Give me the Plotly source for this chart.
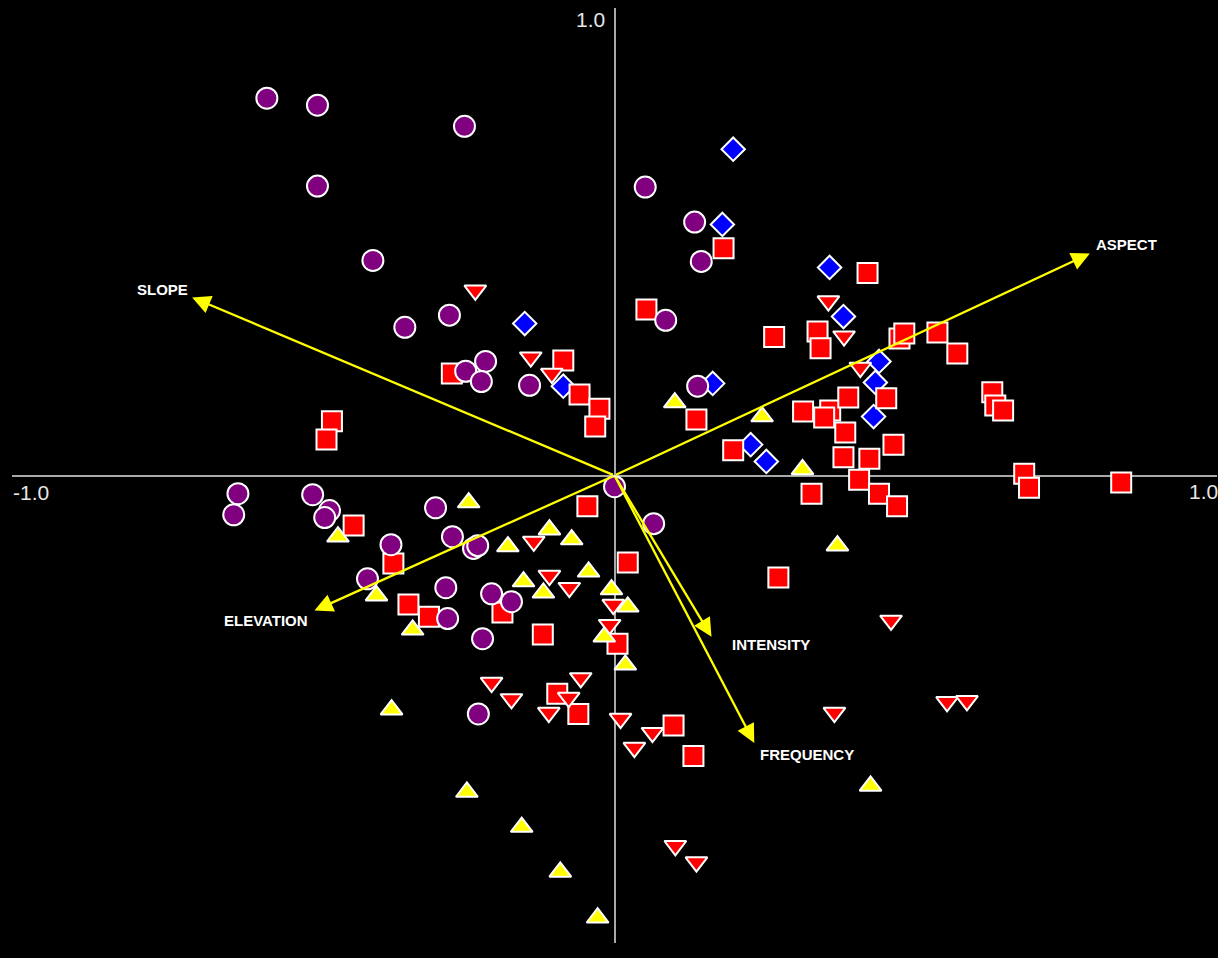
import plotly.graph_objects as go

# Site scores on the first two ordination axes, one list per group
circle_x = [-0.577, -0.493, -0.249, -0.493, 0.051, 0.133, -0.401, 0.144, -0.348, -0.274,
            0.085, -0.214, -0.247, -0.221, -0.141, 0.138, 0.000, -0.625, -0.632, -0.501,
            -0.473, -0.481, -0.297, 0.065, -0.371, -0.269, -0.234, -0.227, -0.410, -0.280,
            -0.204, -0.171, -0.277, -0.219, -0.226]
circle_y = [0.807, 0.792, 0.747, 0.619, 0.617, 0.542, 0.460, 0.458, 0.317, 0.343,
            0.332, 0.244, 0.223, 0.201, 0.193, 0.191, -0.024, -0.039, -0.084, -0.041,
            -0.075, -0.090, -0.069, -0.103, -0.148, -0.131, -0.156, -0.150, -0.221, -0.240,
            -0.253, -0.270, -0.306, -0.349, -0.510]

diamond_x = [0.197, 0.179, 0.357, 0.380, -0.149, -0.085, 0.163, 0.439, 0.433, 0.430, 0.226, 0.252]
diamond_y = [0.698, 0.537, 0.445, 0.340, 0.325, 0.191, 0.197, 0.244, 0.199, 0.126, 0.066, 0.030]

square_x = [0.181, 0.420, 0.053, 0.265, 0.337, 0.342, 0.473, 0.481, 0.536, 0.569,
            -0.085, -0.270, -0.058, -0.025, -0.032, -0.469, -0.478, 0.136, 0.197, 0.313,
            0.358, 0.348, 0.388, 0.451, 0.383, 0.463, 0.627, 0.632, 0.645, 0.380,
            0.423, 0.406, 0.439, 0.469, 0.327, 0.680, 0.688, 0.841, -0.045, -0.433,
            -0.367, 0.022, -0.342, -0.308, -0.186, -0.119, 0.005, 0.272, -0.095, -0.060,
            0.098, 0.131]
square_y = [0.486, 0.433, 0.355, 0.296, 0.308, 0.272, 0.293, 0.304, 0.306, 0.261,
            0.246, 0.218, 0.173, 0.143, 0.105, 0.116, 0.077, 0.120, 0.054, 0.137,
            0.139, 0.124, 0.167, 0.165, 0.092, 0.066, 0.178, 0.150, 0.139, 0.039,
            0.036, -0.009, -0.039, -0.066, -0.039, 0.004, -0.026, -0.015, -0.066, -0.107,
            -0.188, -0.186, -0.276, -0.302, -0.293, -0.340, -0.360, -0.218, -0.467, -0.510,
            -0.535, -0.600]

tri_down_x = [-0.231, 0.355, 0.381, -0.139, -0.104, 0.408, -0.134, -0.108, -0.075, -0.002,
              -0.008, 0.459, -0.204, -0.171, -0.056, -0.076, -0.109, 0.010, 0.063, 0.033,
              0.365, 0.552, 0.585, 0.101, 0.136]
tri_down_y = [0.396, 0.373, 0.298, 0.253, 0.218, 0.231, -0.141, -0.214, -0.240, -0.276,
              -0.319, -0.310, -0.443, -0.478, -0.433, -0.475, -0.507, -0.520, -0.550, -0.582,
              -0.507, -0.484, -0.482, -0.792, -0.827]

tri_up_x = [0.100, 0.245, 0.312, -0.242, -0.108, -0.459, -0.177, -0.071, 0.370, -0.043,
            -0.151, -0.118, -0.395, -0.005, 0.022, -0.335, -0.017, 0.018, -0.370, 0.425,
            -0.245, -0.154, -0.090, -0.028]
tri_up_y = [0.156, 0.126, 0.013, -0.058, -0.116, -0.131, -0.152, -0.137, -0.150, -0.206,
            -0.227, -0.251, -0.257, -0.244, -0.281, -0.330, -0.345, -0.405, -0.501, -0.664,
            -0.677, -0.752, -0.848, -0.946]

# Environmental variable vectors (biplot arrows)
vector_names = ["ASPECT", "SLOPE", "ELEVATION", "INTENSITY", "FREQUENCY"]
vector_x = [0.789, -0.701, -0.498, 0.161, 0.232]
vector_y = [0.475, 0.381, -0.289, -0.345, -0.572]
label_x = [0.849, -0.750, -0.579, 0.260, 0.320]
label_y = [0.495, 0.398, -0.310, -0.362, -0.597]

fig = go.Figure()

outline = dict(color="white", width=2)
groups = [
    (diamond_x, diamond_y, "diamond", 18, "#0000ff"),
    (square_x, square_y, "square", 20, "#ff0000"),
    (circle_x, circle_y, "circle", 21, "#800080"),
    (tri_down_x, tri_down_y, "triangle-down", 19, "#ff0000"),
    (tri_up_x, tri_up_y, "triangle-up", 19, "#ffff00"),
]
for gx, gy, sym, size, col in groups:
    fig.add_trace(go.Scatter(
        x=gx, y=gy, mode="markers",
        marker=dict(symbol=sym, size=size, color=col, line=outline),
        showlegend=False, hoverinfo="skip",
    ))

annotations = []
for name, vx, vy, lx, ly in zip(vector_names, vector_x, vector_y, label_x, label_y):
    annotations.append(dict(
        x=vx, y=vy, ax=0, ay=0, xref="x", yref="y", axref="x", ayref="y",
        text="", showarrow=True, arrowhead=2, arrowsize=1.6, arrowwidth=2.3,
        arrowcolor="#ffff00", standoff=0, startstandoff=0,
    ))
    annotations.append(dict(
        x=lx, y=ly, xref="x", yref="y", text=name, showarrow=False,
        font=dict(family="Liberation Sans, Arial", size=15, color="white", weight="bold"),
        xanchor="center", yanchor="middle",
    ))

# Axis end labels
tick_font = dict(family="Liberation Sans, Arial", size=21, color="#e6e6e6")
for tx, ty, txt in [(-0.04, 0.976, "1.0"), (-0.042, -1.006, "-1.0"),
                    (-0.968, -0.036, "-1.0"), (0.977, -0.034, "1.0")]:
    annotations.append(dict(x=tx, y=ty, xref="x", yref="y", text=txt, showarrow=False,
                            font=tick_font, xanchor="center", yanchor="middle"))

axis_common = dict(
    showgrid=False, showticklabels=False, ticks="", showline=False,
    zeroline=True, zerolinecolor="#a8a8a8", zerolinewidth=1.5,
)
fig.update_layout(
    width=1218, height=958,
    margin=dict(l=12, r=1, t=8, b=15),
    paper_bgcolor="black", plot_bgcolor="black",
    xaxis=dict(range=[-1, 1], **axis_common),
    yaxis=dict(range=[-1, 1], **axis_common),
    annotations=annotations,
    showlegend=False,
)

fig.write_html("out.html")
